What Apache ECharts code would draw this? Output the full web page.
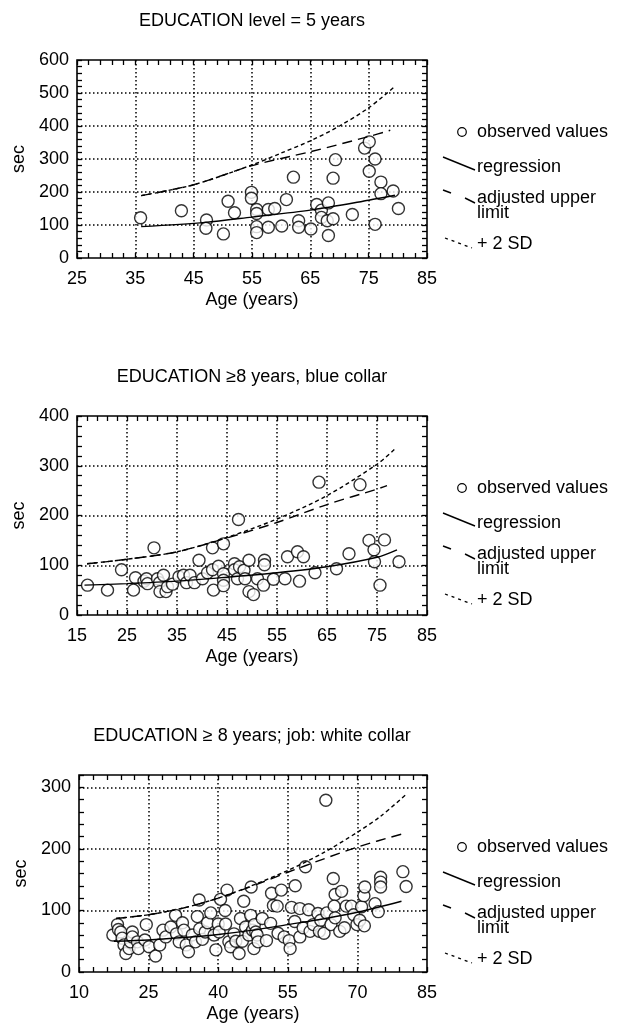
<!DOCTYPE html>
<html>
<head>
<meta charset="utf-8">
<script src="https://cdn.jsdelivr.net/npm/echarts@6/dist/echarts.min.js"></script>
<style>
  html, body { margin: 0; padding: 0; background: #fff; }
  #chart { width: 626px; height: 1028px; }
</style>
</head>
<body>
<div id="chart"></div>
<script>
// ---- data: [age, sec] ----
const titles = ['EDUCATION level = 5 years', 'EDUCATION \u22658 years, blue collar', 'EDUCATION \u2265 8 years; job: white collar'];

const xTicks1 = [25, 35, 45, 55, 65, 75, 85];
const yTicks1 = [0, 100, 200, 300, 400, 500, 600];
const xTicks2 = [15, 25, 35, 45, 55, 65, 75, 85];
const yTicks2 = [0, 100, 200, 300, 400];
const xTicks3 = [10, 25, 40, 55, 70, 85];
const yTicks3 = [0, 100, 200, 300];

const obs1 = [[35.9,122],[42.9,143],[47.2,115],[47.1,90],[50.1,73],[50.9,172],[52,137],[54.9,199],[54.9,181],
  [55.8,147],[55.8,135],[55.8,95],[55.8,77],[57.8,147],[58.9,150],[57.8,93],[60.1,97],[60.9,177],[62.1,245],
  [63,113],[63,93],[65.1,88],[66.1,162],[66.9,145],[66.9,123],[68.1,167],[67.9,113],[68.1,68],[68.9,119],
  [68.9,242],[69.3,298],[72.2,132],[74.3,333],[75.1,352],[75.1,263],[76.1,300],[76.1,102],[77.1,230],
  [77.1,195],[79.2,203],[80.1,150]];
const reg1 = [[36,95],[47,108],[55,124],[65,145],[75,175],[79.5,190]];
const adj1 = [[36,189],[45,222],[55,280],[65,322],[75,368],[78.7,387]];
const sd1 = [[36,189],[45,222],[55,282],[60,318],[65,355],[70,400],[75,455],[79.5,520]];

const obs2 = [[17.1,60],[21.1,50],[23.9,91],[26.3,50],[26.7,75],[28.4,68],[28.9,73],[29.1,63],[30.4,135],
  [31.1,73],[31.5,65],[31.6,47],[32.3,80],[32.8,47],[33.1,57],[34.1,62],[35.4,77],[36.3,80],[36.9,65],
  [37.6,80],[38.5,65],[39.4,110],[40.1,73],[41.1,85],[42.1,91],[42.1,135],[42.3,50],[43.3,98],[44.3,143],
  [44.3,83],[44.3,70],[44.3,59],[46.5,103],[46.5,91],[47.1,73],[47.5,97],[47.3,192],[48.4,90],[48.6,73],
  [49.4,110],[49.4,47],[50.3,41],[51.1,73],[52.3,60],[52.5,110],[52.5,101],[54.3,72],[56.6,73],[57.1,117],
  [59.1,127],[59.5,68],[60.3,117],[62.6,85],[63.4,267],[66.9,93],[69.4,123],[71.6,262],[73.4,150],
  [74.4,131],[74.5,107],[75.6,60],[76.5,151],[79.4,107]];
const reg2 = [[16.5,60],[25,63],[35,68],[45,76],[55,85],[65,97],[75,116],[79,131]];
const adj2 = [[17,103],[25,112],[35,127],[45,155],[55,186],[65,222],[75,253],[77,260]];
const sd2 = [[17,103],[25,112],[35,127],[45,156],[55,193],[65,240],[75,303],[78.5,333]];

const obs3 = [[17.3,60],[18.3,77],[18.5,69],[19,65],[19.3,55],[19.7,44],[20.1,30],[20.8,38],[21.1,49],
  [21.5,65],[21.5,57],[22.6,49],[22.8,38],[24.2,52],[24.5,77],[25.1,41],[26.5,26],[27.4,44],[28.1,68],
  [28.7,57],[29.8,73],[30.8,92],[31,62],[31.6,49],[32.3,80],[32.6,68],[33.1,44],[33.6,33],[34.4,60],
  [35.1,49],[35.5,90],[35.9,117],[36,70],[36.6,53],[37.2,65],[37.7,80],[38.4,96],[39.1,60],[39.5,36],
  [40,78],[40.2,65],[40.5,118],[41.5,100],[41.6,78],[41.9,133],[42.3,49],[42.7,41],[43.4,62],[43.8,50],
  [44.5,30],[44.8,87],[45.2,50],[45.5,115],[45.9,73],[46.6,60],[47.1,138],[47,92],[47.4,68],
  [47.8,77],[48.1,65],[47.7,38],[48.4,60],[48.6,49],[49.5,87],[50.4,51],[51.5,128],[51.3,79],[51.9,108],
  [52.7,107],[52.9,63],[53.6,133],[54.2,57],[55.3,51],[55.5,38],[55.8,105],[56.6,140],[56.5,82],[57.6,103],
  [57.6,57],[58.3,72],[58.8,171],[59.5,101],[59.8,66],[60.5,77],[61.5,95],[61.8,66],[62.1,84],[62.8,63],
  [63.4,96],[64.3,77],[64.8,152],[65.2,126],[65,107],[65.2,88],[66.2,66],[66.6,131],[67.2,72],[67.6,107],
  [68.7,107],[69.2,93],[69.9,77],[70.5,84],[70.9,106],[71.4,124],[71.6,138],[71.5,75],[73.8,111],
  [74.5,98],[75,154],[75,146],[75,138],[79.8,163],[80.5,139],[63.2,279]];
const reg3 = [[17.5,50],[25,52],[32.5,56],[40,61],[47.5,68],[55,77],[62.5,86],[70,97],[79.5,115]];
const adj3 = [[18,87],[25,93],[32.5,104],[40,120],[47.5,140],[55,162],[62.5,183],[70,203],[80,225]];
const sd3 = [[18,87],[25,93],[32.5,104],[40,120],[47.5,141],[55,165],[62.5,193],[70,227],[75,253],[80.3,287]];

// ---- layout ----
const FONT = '"Liberation Sans", Arial, Helvetica, sans-serif';
const panels = [
  {top: 60,  left: 77, width: 350, height: 198, xMin: 25, xMax: 85, xStep: 2, yMax: 600, yStep: 20,
   xTicks: xTicks1, yTicks: yTicks1, title: titles[0], obs: obs1, reg: reg1, adj: adj1, sd: sd1},
  {top: 416, left: 77, width: 350, height: 199, xMin: 15, xMax: 85, xStep: 2, yMax: 400, yStep: 20,
   xTicks: xTicks2, yTicks: yTicks2, title: titles[1], obs: obs2, reg: reg2, adj: adj2, sd: sd2},
  {top: 775, left: 79, width: 348, height: 197, xMin: 10, xMax: 85, xStep: 3, yMax: 320, yStep: 20,
   xTicks: xTicks3, yTicks: yTicks3, title: titles[2], obs: obs3, reg: reg3, adj: adj3, sd: sd3}
];

function steps(a, b, s) {
  const out = [];
  for (let v = a; v <= b + 1e-9; v += s) out.push(+v.toFixed(4));
  return out;
}

const txt = {color: '#000', fontSize: 18, fontFamily: FONT};
const tickStyle = {color: '#000', width: 1.3};
const dotted = {color: '#000', width: 1.5, type: [1.5, 2.5]};

const grid = [], xAxis = [], yAxis = [], series = [], graphic = [];

panels.forEach((p, i) => {
  grid.push({left: p.left, top: p.top, width: p.width, height: p.height,
    show: true, borderColor: '#000', borderWidth: 1.6, backgroundColor: 'transparent'});
  const xi = xAxis.length, yi = yAxis.length;
  const xb = {type: 'value', gridIndex: i, min: p.xMin, max: p.xMax,
    axisLine: {show: false, onZero: false}, splitLine: {show: false}};
  const yb = {type: 'value', gridIndex: i, min: 0, max: p.yMax,
    axisLine: {show: false, onZero: false}, splitLine: {show: false}};
  const xMinor = steps(p.xMin, p.xMax, p.xStep);
  const yMinor = steps(0, p.yMax, p.yStep);

  xAxis.push(Object.assign({}, xb, {position: 'bottom', name: 'Age (years)', nameLocation: 'middle',
    nameGap: 33, nameTextStyle: txt,
    axisTick: {inside: true, length: 5, lineStyle: tickStyle, customValues: xMinor},
    axisLabel: Object.assign({margin: 12, customValues: p.xTicks}, txt)}));
  xAxis.push(Object.assign({}, xb, {position: 'top',
    axisTick: {inside: true, length: 5, lineStyle: tickStyle, customValues: xMinor},
    axisLabel: {show: false}}));
  xAxis.push(Object.assign({}, xb, {position: 'bottom',
    axisTick: {show: false, customValues: p.xTicks.slice(1, -1)}, axisLabel: {show: false},
    splitLine: {show: true, lineStyle: dotted}}));

  yAxis.push(Object.assign({}, yb, {position: 'left', name: 'sec', nameLocation: 'middle',
    nameGap: 46, nameTextStyle: txt,
    axisTick: {inside: true, length: 5, lineStyle: tickStyle, customValues: yMinor},
    axisLabel: Object.assign({margin: 8, customValues: p.yTicks}, txt)}));
  yAxis.push(Object.assign({}, yb, {position: 'right',
    axisTick: {inside: true, length: 5, lineStyle: tickStyle, customValues: yMinor},
    axisLabel: {show: false}}));
  yAxis.push(Object.assign({}, yb, {position: 'left',
    axisTick: {show: false, customValues: p.yTicks.slice(1).filter(v => v < p.yMax)}, axisLabel: {show: false},
    splitLine: {show: true, lineStyle: dotted}}));

  series.push({type: 'scatter', xAxisIndex: xi, yAxisIndex: yi, data: p.obs, symbol: 'circle',
    symbolSize: 12, itemStyle: {color: '#fff', borderColor: '#000', borderWidth: 1.4}, z: 3});
  [[p.reg, 'solid'], [p.adj, [10, 6]], [p.sd, [4, 3]]].forEach(([d, type]) => {
    series.push({type: 'line', xAxisIndex: xi, yAxisIndex: yi, data: d, smooth: 0.3, showSymbol: false,
      lineStyle: {color: '#000', width: 1.4, type: type}, z: 4});
  });

  // title
  graphic.push({type: 'text', x: 252, y: p.top - 39, style: {text: p.title, fill: '#000',
    font: '18px ' + FONT, align: 'center', verticalAlign: 'middle'}});
  // legend on the right
  const t = p.top;
  const lf = '18px ' + FONT;
  graphic.push(
    {type: 'circle', shape: {cx: 462, cy: t + 72, r: 4.3}, style: {fill: '#fff', stroke: '#000', lineWidth: 1.2}},
    {type: 'text', x: 477, y: t + 72, style: {text: 'observed values', fill: '#000', font: lf, verticalAlign: 'middle'}},
    {type: 'line', shape: {x1: 443, y1: t + 97, x2: 475, y2: t + 110}, style: {stroke: '#000', lineWidth: 1.4}},
    {type: 'text', x: 477, y: t + 107, style: {text: 'regression', fill: '#000', font: lf, verticalAlign: 'middle'}},
    {type: 'line', shape: {x1: 443, y1: t + 130, x2: 451, y2: t + 133}, style: {stroke: '#000', lineWidth: 1.4}},
    {type: 'line', shape: {x1: 465, y1: t + 138, x2: 475, y2: t + 143}, style: {stroke: '#000', lineWidth: 1.4}},
    {type: 'text', x: 477, y: t + 138, style: {text: 'adjusted upper', fill: '#000', font: lf, verticalAlign: 'middle'}},
    {type: 'text', x: 477, y: t + 153, style: {text: 'limit', fill: '#000', font: lf, verticalAlign: 'middle'}},
    {type: 'line', shape: {x1: 445, y1: t + 178, x2: 472, y2: t + 188}, style: {stroke: '#000', lineWidth: 1.3, lineDash: [3, 4]}},
    {type: 'text', x: 477, y: t + 184, style: {text: '+ 2 SD', fill: '#000', font: lf, verticalAlign: 'middle'}}
  );
});

const chart = echarts.init(document.getElementById('chart'), null, {renderer: 'canvas'});
chart.setOption({
  animation: false,
  backgroundColor: '#fff',
  textStyle: {fontFamily: FONT},
  grid: grid,
  xAxis: xAxis,
  yAxis: yAxis,
  series: series,
  graphic: graphic
});
</script>
</body>
</html>
